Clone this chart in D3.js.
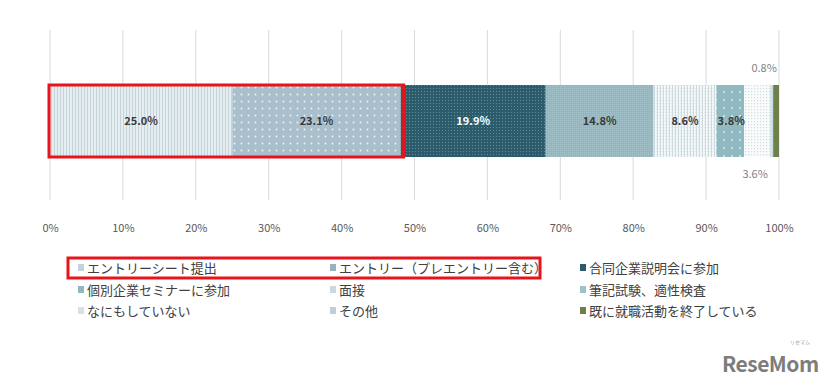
<!DOCTYPE html>
<html>
<head>
<meta charset="utf-8">
<script src="https://d3js.org/d3.v7.min.js"></script>
<style>
  body { margin: 0; background: #fff; }
  text { font-family: "Noto Sans CJK JP", "Noto Sans", sans-serif; }
</style>
</head>
<body>
<div id="chart"></div>
<script>
// data
const categories = ["エントリーシート提出", "エントリー（プレエントリー含む）", "合同企業説明会に参加",
  "個別企業セミナーに参加", "面接", "筆記試験、適性検査", "なにもしていない", "その他", "既に就職活動を終了している"];
const values = [25.0, 23.1, 19.9, 14.8, 8.6, 3.8, 3.6, 0.4, 0.8];
const labels = ["25.0%", "23.1%", "19.9%", "14.8%", "8.6%", "3.8%", "3.6%", "", "0.8%"];
const ticks = [0, 10, 20, 30, 40, 50, 60, 70, 80, 90, 100];

const W = 831, H = 389;
const svg = d3.select("#chart").append("svg").attr("width", W).attr("height", H);
const defs = svg.append("defs");

// fill patterns, one per series
function pat(id, size, bg, draw) {
  const p = defs.append("pattern").attr("id", id).attr("patternUnits", "userSpaceOnUse")
    .attr("width", size).attr("height", size);
  p.append("rect").attr("width", size).attr("height", size).attr("fill", bg);
  draw(p);
}
pat("p0", 3, "#e6eef1", p => p.append("rect").attr("x", 0).attr("width", 1).attr("height", 3).attr("fill", "#c3d3da"));
pat("p1", 7, "#a9c0cc", p => p.append("circle").attr("cx", 3.5).attr("cy", 3.5).attr("r", 0.9).attr("fill", "#eef4f7"));
pat("p2", 3, "#2c5c6b", p => p.append("rect").attr("x", 1).attr("y", 1).attr("width", 1).attr("height", 1).attr("fill", "#5f8c98"));
pat("p3", 2, "#93b7bf", p => p.append("rect").attr("width", 1).attr("height", 1).attr("fill", "#a4c3ca"));
pat("p4", 3, "#f3f7f8", p => { p.append("rect").attr("width", 1).attr("height", 3).attr("fill", "#cddbe0");
  p.append("rect").attr("x", 2).attr("y", 1).attr("width", 1).attr("height", 1).attr("fill", "#dbe6ea"); });
pat("p5", 8, "#91b9c1", p => p.append("circle").attr("cx", 4).attr("cy", 4).attr("r", 0.9).attr("fill", "#e6f0f2"));
pat("p6", 3, "#fafcfc", p => p.append("rect").attr("x", 1).attr("y", 1).attr("width", 1.2).attr("height", 1.2).attr("fill", "#cfdde2"));
pat("p7", 2, "#d3e2e5", p => p.append("rect").attr("width", 1).attr("height", 1).attr("fill", "#bcd0d5"));
const fills = categories.map((c, i) => i === 8 ? "#6f7f4c" : `url(#p${i})`);
const legendColors = ["#c3d3da", "#98b2c0", "#2c5c6b", "#93b7bf", "#c9d9de", "#9fc2c9", "#d7e2e6", "#bcd0d5", "#6f7f4c"];

const x = d3.scaleLinear().domain([0, 100]).range([50, 779]);

// gridlines
svg.append("g").selectAll("line").data(ticks).join("line")
  .attr("x1", d => x(d)).attr("x2", d => x(d))
  .attr("y1", 30).attr("y2", 200)
  .attr("stroke", "#d9d9d9").attr("stroke-width", 1);

// axis labels
const axis = d3.axisBottom(x).tickValues(ticks).tickFormat(d => d + "%").tickSize(0);
const ax = svg.append("g").attr("transform", "translate(0,221)").call(axis);
ax.select(".domain").remove();
ax.selectAll("text").attr("font-size", 11).attr("fill", "#595959").attr("font-family", "Noto Sans, sans-serif");

// stacked bar
let acc = 0;
const segs = values.map((v, i) => { const s = { i, x0: acc, x1: acc + v, v }; acc += v; return s; });
const barY = 85, barH = 72;
svg.append("g").selectAll("rect").data(segs).join("rect")
  .attr("x", d => x(d.x0)).attr("width", d => x(d.x1) - x(d.x0))
  .attr("y", barY).attr("height", barH)
  .attr("fill", d => fills[d.i]);

// value labels
const inside = segs.filter(d => d.i <= 5);
svg.append("g").selectAll("text").data(inside).join("text")
  .attr("x", d => (x(d.x0) + x(d.x1)) / 2 + (d.i === 5 ? 1 : 0))
  .attr("y", barY + barH / 2 + 4)
  .attr("text-anchor", "middle").attr("font-size", 11).attr("font-weight", "bold")
  .attr("font-family", "Noto Sans, sans-serif")
  .attr("fill", d => d.i === 2 ? "#ffffff" : "#3a3a3a")
  .text(d => labels[d.i]);
svg.append("text").attr("x", (x(segs[6].x0) + x(segs[6].x1)) / 2 - 2).attr("y", 178)
  .attr("text-anchor", "middle").attr("font-size", 11).attr("fill", "#7f7f7f")
  .attr("font-family", "Noto Sans, sans-serif").text(labels[6]);
svg.append("text").attr("x", x(segs[8].x0) - 9).attr("y", 72)
  .attr("text-anchor", "middle").attr("font-size", 11).attr("fill", "#7f7f7f")
  .attr("font-family", "Noto Sans, sans-serif").text(labels[8]);

// red highlight around first two segments
svg.append("rect").attr("x", 49).attr("y", 85).attr("width", x(segs[1].x1) - 49 + 3).attr("height", 72)
  .attr("fill", "none").attr("stroke", "#e8141c").attr("stroke-width", 3);

// legend
const colX = [78, 330, 580], rowY = [268, 290, 311];
const lg = svg.append("g").selectAll("g").data(categories).join("g")
  .attr("transform", (d, i) => `translate(${colX[i % 3]},${rowY[Math.floor(i / 3)]})`);
lg.append("rect").attr("x", 0).attr("y", -4).attr("width", 6).attr("height", 7)
  .attr("fill", (d, i) => legendColors[i]);
lg.append("text").attr("x", 9).attr("y", 5).attr("font-size", 13).attr("fill", "#404040").text(d => d);

svg.append("rect").attr("x", 68).attr("y", 258).attr("width", 472).attr("height", 20)
  .attr("fill", "none").attr("stroke", "#e8141c").attr("stroke-width", 3);

// watermark
svg.append("text").attr("x", 722).attr("y", 372).attr("font-size", 21).attr("font-weight", "bold")
  .attr("font-family", "Noto Sans, sans-serif").attr("fill", "#7d7d7d").attr("letter-spacing", -0.5).text("ReseMom");
svg.append("text").attr("x", 790).attr("y", 344).attr("font-size", 5).attr("fill", "#999").text("リセマム");
</script>
</body>
</html>
